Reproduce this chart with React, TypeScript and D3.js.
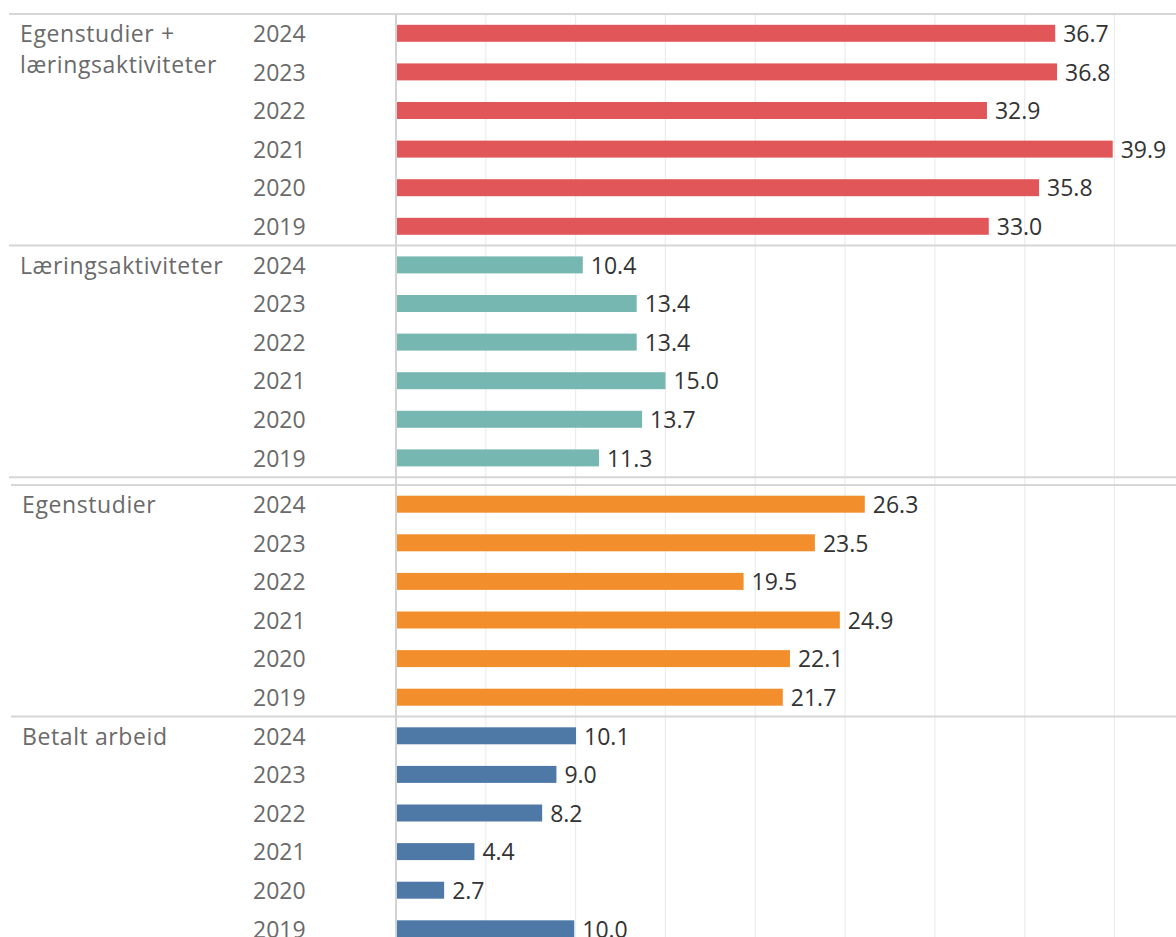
import React from "react";
import * as d3 from "d3";

const years = ["2024", "2023", "2022", "2021", "2020", "2019"];
const categories = [
  ["Egenstudier +", "læringsaktiviteter"],
  ["Læringsaktiviteter"],
  ["Egenstudier"],
  ["Betalt arbeid"],
];
const seriesValues = [
  [36.7, 36.8, 32.9, 39.9, 35.8, 33.0],
  [10.4, 13.4, 13.4, 15.0, 13.7, 11.3],
  [26.3, 23.5, 19.5, 24.9, 22.1, 21.7],
  [10.1, 9.0, 8.2, 4.4, 2.7, 10.0],
];
const colors = ["#e15759", "#76b7b2", "#f28e2b", "#4e79a7"];
const xTicks = [5, 10, 15, 20, 25, 30, 35, 40];

const W = 1176;
const H = 937;
const FONT = "'Open Sans', 'Noto Sans', sans-serif";

export default function App() {
  const top0 = 14;
  const step = 38.6;
  const groupH = step * years.length;
  const gap = 7.7;
  // upper sheet and lower sheet have slightly different axis lengths
  const xTop = d3.scaleLinear().domain([0, 40]).range([396, 1114.5]);
  const xBottom = d3.scaleLinear().domain([0, 40]).range([396, 1109]);
  const yBand = d3
    .scaleBand<string>()
    .domain(years)
    .range([0, groupH])
    .paddingInner(0.56)
    .paddingOuter(0.28);
  const groupTop = (i: number) => top0 + i * groupH + (i >= 2 ? gap : 0);
  const fmt = d3.format(".1f");
  const fs = 23;

  return (
    <svg
      width={W}
      height={H}
      style={{ position: "absolute", left: 0, top: 0, background: "#fff" }}
      fontFamily={FONT}
    >
      {/* gridlines */}
      {xTicks.map((t) => (
        <line
          key={t}
          x1={xTop(t)}
          x2={xTop(t)}
          y1={top0}
          y2={H}
          stroke="#ececec"
          strokeWidth={1.2}
        />
      ))}
      {/* separators */}
      <line x1={9} x2={W} y1={top0} y2={top0} stroke="#d6d6d6" strokeWidth={2} />
      <line x1={9} x2={W} y1={groupTop(1)} y2={groupTop(1)} stroke="#d6d6d6" strokeWidth={2} />
      <line x1={9} x2={W} y1={groupTop(1) + groupH} y2={groupTop(1) + groupH} stroke="#d6d6d6" strokeWidth={2} />
      <line x1={11} x2={W} y1={groupTop(2)} y2={groupTop(2)} stroke="#d6d6d6" strokeWidth={2} />
      <line x1={11} x2={W} y1={groupTop(3)} y2={groupTop(3)} stroke="#d6d6d6" strokeWidth={2} />

      {categories.map((cat, gi) => {
        const gt = groupTop(gi);
        const vals = seriesValues[gi];
        const x = gi >= 2 ? xBottom : xTop;
        const labelX = gi >= 2 ? 22 : 20;
        return (
          <g key={gi}>
            {cat.map((line, li) => (
              <text
                key={li}
                x={labelX}
                y={gt + step / 2 + li * 31}
                dy="0.38em"
                fontSize={fs}
                fill="#6a6a6a"
                letterSpacing="0.6"
              >
                {line}
              </text>
            ))}
            {years.map((yr, i) => {
              const by = gt + (yBand(yr) as number);
              const bh = yBand.bandwidth();
              const v = vals[i];
              return (
                <g key={yr}>
                  <text
                    x={253}
                    y={by + bh / 2}
                    dy="0.38em"
                    fontSize={fs}
                    fill="#6a6a6a"
                  >
                    {yr}
                  </text>
                  <rect
                    x={x(0)}
                    y={by}
                    width={x(v) - x(0)}
                    height={bh}
                    fill={colors[gi]}
                  />
                  <text
                    x={x(v) + 8}
                    y={by + bh / 2}
                    dy="0.38em"
                    fontSize={fs}
                    fill="#333333"
                  >
                    {fmt(v)}
                  </text>
                </g>
              );
            })}
          </g>
        );
      })}
      {/* axis line */}
      <line x1={396} x2={396} y1={top0} y2={H} stroke="#d3d3d3" strokeWidth={2} />
    </svg>
  );
}
